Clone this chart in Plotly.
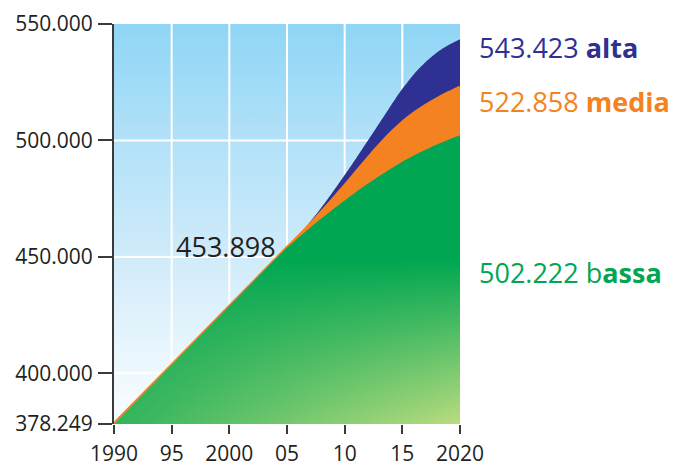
import plotly.graph_objects as go

# Historical emissions (linear trend 1990-2005)
hist_years = [1990, 2005]
hist_values = [378249, 453898]

# Projection years and the three scenarios
proj_years = [2006, 2007, 2008, 2009, 2010, 2011, 2012, 2013,
              2014, 2015, 2016, 2017, 2018, 2019, 2020]
alta = [459220, 465020, 471310, 478080, 485140, 492390, 499840, 507380,
        514920, 522170, 528460, 533590, 537750, 540940, 543423]
media = [458760, 463910, 469250, 474790, 480520, 486350, 492180, 497810,
         503050, 507710, 511590, 514890, 517800, 520420, 522858]
bassa = [458250, 462500, 466550, 470500, 474250, 477910, 481370, 484730,
         487890, 490850, 493520, 495990, 498260, 500330, 502222]

x_tickvals = [1990, 1995, 2000, 2005, 2010, 2015, 2020]
x_ticktext = ["1990", "95", "2000", "05", "10", "15", "2020"]
y_tickvals = [378249, 400000, 450000, 500000, 550000]
y_grid = [400000, 450000, 500000]
x_grid = [1995, 2000, 2005, 2010, 2015]

X_MIN, X_MAX = 1990, 2020
Y_MIN, Y_MAX = 378249, 550000

C_ALTA = "#2e3192"
C_MEDIA = "#f58220"
C_BASSA = "#00a651"
C_TEXT = "#231f20"
C_AXIS = "#3a3a3a"
FONT = "Open Sans"


def fmt(v):
    return f"{v:,}".replace(",", ".")


years = hist_years + proj_years
fig = go.Figure()

# Sky-blue background fading to white
fig.add_trace(go.Scatter(
    x=[X_MIN, X_MAX], y=[Y_MAX, Y_MAX], mode="lines", line=dict(width=0),
    fill="tozeroy",
    fillgradient=dict(type="vertical", start=Y_MIN, stop=Y_MAX,
                      colorscale=[[0, "#fbfdff"], [0.13, "#eef8fd"],
                                  [0.42, "#d0ebfa"], [0.71, "#b2e1f8"],
                                  [1, "#8fd5f5"]]),
    hoverinfo="skip"))

# White grid lines
gx, gy = [], []
for xv in x_grid:
    gx += [xv, xv, None]
    gy += [Y_MIN, Y_MAX, None]
for yv in y_grid:
    gx += [X_MIN, X_MAX, None]
    gy += [yv, yv, None]
fig.add_trace(go.Scatter(x=gx, y=gy, mode="lines",
                         line=dict(color="white", width=2), hoverinfo="skip"))

shape = dict(shape="spline", smoothing=0.6)

# Scenario areas, highest first
fig.add_trace(go.Scatter(
    x=years, y=hist_values + alta, mode="lines",
    line=dict(color=C_ALTA, width=0, **shape),
    fill="tozeroy", fillcolor=C_ALTA, hoverinfo="skip"))
fig.add_trace(go.Scatter(
    x=years, y=hist_values + media, mode="lines",
    line=dict(color=C_MEDIA, width=3.5, **shape),
    fill="tozeroy", fillcolor=C_MEDIA, hoverinfo="skip"))
fig.add_trace(go.Scatter(
    x=years, y=hist_values + bassa, mode="lines",
    line=dict(color=C_BASSA, width=0, **shape),
    fill="tozeroy",
    fillgradient=dict(type="vertical", start=Y_MIN, stop=448700,
                      colorscale=[[0, "#b9dc7f"], [1, C_BASSA]]),
    hoverinfo="skip"))
# Darker wash on the left so the green fades diagonally
fig.add_trace(go.Scatter(
    x=years, y=hist_values + bassa, mode="lines",
    line=dict(color=C_BASSA, width=0, **shape),
    fill="tozeroy",
    fillgradient=dict(type="horizontal", start=X_MIN, stop=X_MAX,
                      colorscale=[[0, "rgba(0,166,81,0.74)"],
                                  [1, "rgba(0,166,81,0)"]]),
    hoverinfo="skip"))

LABEL_X = 1.05
annotations = [
    dict(x=hist_years[-1], y=hist_values[-1], xref="x", yref="y",
         text=fmt(hist_values[-1]), showarrow=False, xanchor="right",
         yanchor="middle", xshift=-9, yshift=1,
         font=dict(family=FONT, size=27, color=C_TEXT)),
    dict(x=LABEL_X, y=0.941, xref="paper", yref="paper",
         text=f"{fmt(alta[-1])} <b>alta</b>", showarrow=False,
         xanchor="left", yanchor="middle",
         font=dict(family=FONT, size=27, color=C_ALTA)),
    dict(x=LABEL_X, y=0.8075, xref="paper", yref="paper",
         text=f"{fmt(media[-1])} <b>media</b>", showarrow=False,
         xanchor="left", yanchor="middle",
         font=dict(family=FONT, size=27, color=C_MEDIA)),
    dict(x=LABEL_X, y=0.38, xref="paper", yref="paper",
         text=f"{fmt(bassa[-1])} b<b>assa</b>", showarrow=False,
         xanchor="left", yanchor="middle",
         font=dict(family=FONT, size=27, color=C_BASSA)),
]

fig.update_layout(
    width=674, height=467,
    margin=dict(l=114, r=214, t=24, b=43, autoexpand=False),
    paper_bgcolor="white", plot_bgcolor="white",
    showlegend=False, hovermode=False,
    separators=",.",
    font=dict(family=FONT, size=21, color=C_TEXT),
    annotations=annotations,
    xaxis=dict(range=[X_MIN, X_MAX], showgrid=False, zeroline=False,
               automargin=False,
               showline=False, ticks="outside", ticklen=9, tickwidth=1.5,
               tickcolor=C_AXIS, tickvals=x_tickvals, ticktext=x_ticktext,
               ticklabelstandoff=2,
               tickfont=dict(family=FONT, size=21, color=C_TEXT)),
    yaxis=dict(range=[Y_MIN, Y_MAX], showgrid=False, zeroline=False,
               automargin=False,
               showline=True, linecolor=C_AXIS, linewidth=2,
               ticks="outside", ticklen=14, tickwidth=2, tickcolor=C_AXIS,
               tickvals=y_tickvals, tickformat=",d", ticklabelstandoff=1,
               tickfont=dict(family=FONT, size=21, color=C_TEXT)),
)

fig.write_html("out.html")
